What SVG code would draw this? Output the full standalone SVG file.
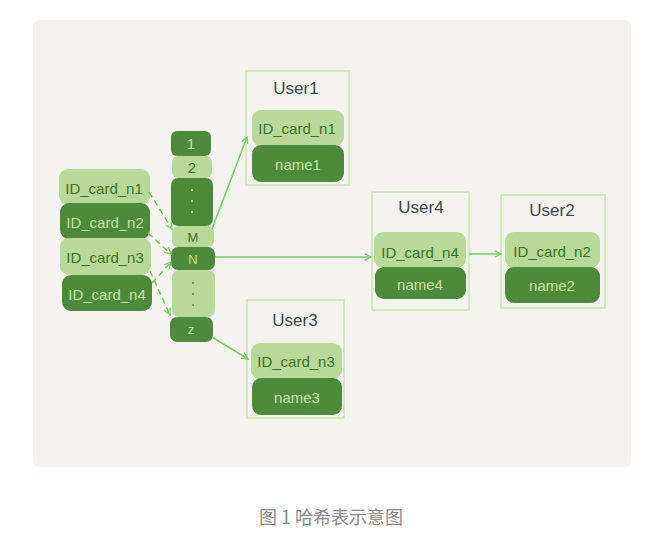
<svg xmlns="http://www.w3.org/2000/svg" width="663" height="539" viewBox="0 0 663 539">
<defs>
<style>
.lt{fill:#b9d99a}
.dk{fill:#4e8a3c}
.tl{font-family:"Liberation Sans","DejaVu Sans",sans-serif;font-size:15px;fill:#3a7229;text-anchor:middle;dominant-baseline:central}
.td{font-family:"Liberation Sans","DejaVu Sans",sans-serif;font-size:15px;fill:#c4e4a4;text-anchor:middle;dominant-baseline:central}
.tt{font-family:"Liberation Sans","DejaVu Sans",sans-serif;font-size:17px;fill:#41464e;text-anchor:middle;dominant-baseline:central}
.box{fill:none;stroke:#c8e5ae;stroke-width:1.5}
.ar{fill:none;stroke:#74cf62;stroke-width:1.5;marker-end:url(#ah)}
.da{fill:none;stroke:#6cc85a;stroke-width:1.5;stroke-dasharray:6 4;marker-end:url(#ah)}
.dot{fill:#c4e4a4}
.dotd{fill:#4e8a3c}
</style>
<marker id="ah" viewBox="0 0 10 10" refX="9" refY="5" markerWidth="8" markerHeight="8" markerUnits="userSpaceOnUse" orient="auto">
<path d="M1,1 L9,5 L1,9" fill="none" stroke="#74cf62" stroke-width="1.6"/>
</marker>
</defs>
<rect x="0" y="0" width="663" height="539" fill="#ffffff"/>
<rect x="33" y="20" width="598" height="447" rx="6" fill="#f4f3ef"/>

<g id="keys">
<rect class="lt" x="59" y="169" width="91" height="36" rx="9"/>
<text class="tl" x="104" y="188">ID_card_n1</text>
<rect class="dk" x="60" y="203" width="90" height="36" rx="9"/>
<text class="td" x="105" y="222">ID_card_n2</text>
<rect class="lt" x="60" y="238" width="91" height="37" rx="9"/>
<text class="tl" x="105" y="257">ID_card_n3</text>
<rect class="dk" x="62" y="275" width="90" height="36" rx="9"/>
<text class="td" x="107" y="294">ID_card_n4</text>
</g>

<g id="hash">
<rect class="dk" x="171" y="131" width="40" height="25" rx="6"/>
<text class="td" x="191" y="143">1</text>
<rect class="lt" x="172" y="156" width="40" height="22" rx="6"/>
<text class="tl" x="192" y="167">2</text>
<rect class="dk" x="171" y="178" width="42" height="48" rx="7"/>
<circle class="dot" cx="192" cy="190" r="1"/>
<circle class="dot" cx="192" cy="201" r="1"/>
<circle class="dot" cx="192" cy="212" r="1"/>
<rect class="lt" x="172" y="226" width="42" height="21" rx="6"/>
<text class="tl" x="193" y="237" style="font-size:13px">M</text>
<rect class="dk" x="171" y="247" width="44" height="23" rx="7"/>
<text class="td" x="193" y="259" style="font-size:13px">N</text>
<rect class="lt" x="172" y="270" width="43" height="47" rx="7"/>
<circle class="dotd" cx="193" cy="283" r="1"/>
<circle class="dotd" cx="193" cy="294" r="1"/>
<circle class="dotd" cx="193" cy="305" r="1"/>
<rect class="dk" x="170" y="317" width="43" height="25" rx="7"/>
<text class="td" x="191" y="329" style="font-size:13px">z</text>
</g>

<g id="user1">
<rect class="box" x="246" y="71" width="103" height="114"/>
<text class="tt" x="296" y="88">User1</text>
<rect class="lt" x="252" y="110" width="92" height="36" rx="9"/>
<text class="tl" x="297" y="128">ID_card_n1</text>
<rect class="dk" x="252" y="145" width="92" height="37" rx="9"/>
<text class="td" x="298" y="164">name1</text>
</g>

<g id="user3">
<rect class="box" x="247" y="300" width="97" height="118"/>
<text class="tt" x="295" y="320">User3</text>
<rect class="lt" x="251" y="343" width="91" height="36" rx="9"/>
<text class="tl" x="296" y="361">ID_card_n3</text>
<rect class="dk" x="252" y="378" width="90" height="37" rx="9"/>
<text class="td" x="297" y="397">name3</text>
</g>

<g id="user4">
<rect class="box" x="372" y="192" width="97" height="118"/>
<text class="tt" x="421" y="207">User4</text>
<rect class="lt" x="374" y="232" width="92" height="36" rx="9"/>
<text class="tl" x="420" y="252">ID_card_n4</text>
<rect class="dk" x="375" y="267" width="91" height="32" rx="9"/>
<text class="td" x="420" y="284">name4</text>
</g>

<g id="user2">
<rect class="box" x="501" y="195" width="104" height="113"/>
<text class="tt" x="552" y="210">User2</text>
<rect class="lt" x="505" y="232" width="95" height="36" rx="9"/>
<text class="tl" x="552" y="251">ID_card_n2</text>
<rect class="dk" x="505" y="267" width="95" height="36" rx="9"/>
<text class="td" x="552" y="285">name2</text>
</g>

<g id="connectors">
<path class="da" d="M149,192 L172,229"/>
<path class="da" d="M148,233 L171,254"/>
<path class="da" d="M152,283 L171,262"/>
<path class="da" d="M150,271 L170,315"/>
<path class="ar" d="M212,229 L247,137"/>
<path class="ar" d="M215,257 L371,257"/>
<path class="ar" d="M212,337 L248,359"/>
<path class="ar" d="M469,254 L501,254"/>
</g>

<text x="331" y="524" style="font-family:'Noto Sans CJK SC','Liberation Sans',sans-serif;font-size:18px;fill:#8a8a8a;text-anchor:middle">图 1 哈希表示意图</text>
</svg>
